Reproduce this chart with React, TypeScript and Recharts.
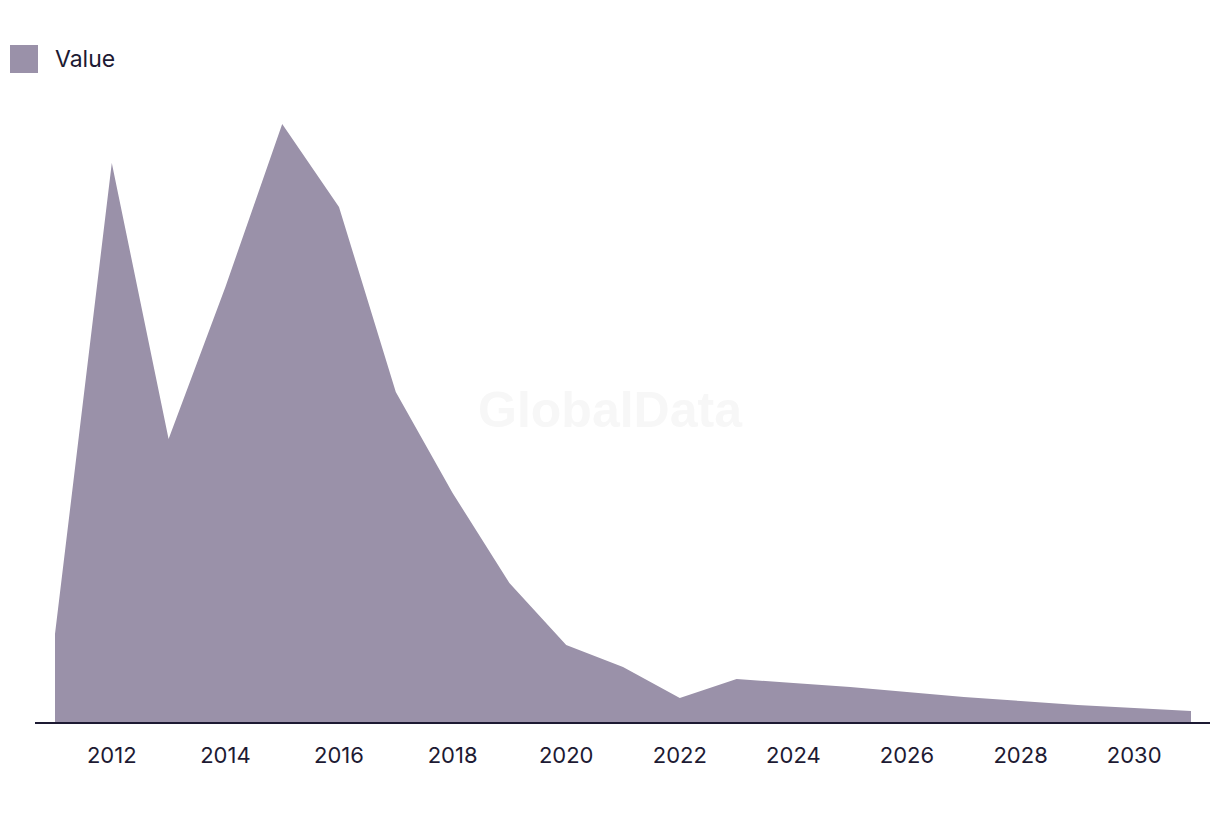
import { Area, AreaChart, Legend, XAxis, YAxis } from "recharts";

const years = [
  2011, 2012, 2013, 2014, 2015, 2016, 2017, 2018, 2019, 2020, 2021, 2022, 2023,
  2024, 2025, 2026, 2027, 2028, 2029, 2030, 2031,
];
const values = [
  89, 560, 284, 436, 599, 516, 331, 230, 140, 78, 56, 25, 44, 40, 36, 31, 26,
  22, 18, 15, 12,
];
const yearTicks = [2012, 2014, 2016, 2018, 2020, 2022, 2024, 2026, 2028, 2030];

const data = years.map((year, i) => ({ year, Value: values[i] }));

const FILL = "#9a91a9";
const INK = "#1d1a33";
const FONT = "Inter, 'Noto Sans', sans-serif";

function LegendBox() {
  return (
    <div style={{ display: "flex", alignItems: "center", fontFamily: FONT, height: 28 }}>
      <div style={{ width: 28, height: 28, background: FILL }} />
      <span style={{ marginLeft: 17, fontSize: 23, color: INK }}>Value</span>
    </div>
  );
}

export default function App() {
  return (
    <div style={{ position: "absolute", left: 0, top: 0, width: 1220, height: 816, background: "#fff" }}>
      <AreaChart
        width={1220}
        height={816}
        data={data}
        margin={{ top: 72, right: 10, left: 35, bottom: 33 }}
      >
        <text
          x={610}
          y={427}
          textAnchor="middle"
          fontFamily="'Liberation Sans', Arial, sans-serif"
          fontWeight="bold"
          fontSize={50}
          fill="#f7f7f7"
        >
          GlobalData
        </text>
        <XAxis
          dataKey="year"
          type="number"
          domain={[2011, 2031]}
          ticks={yearTicks}
          padding={{ left: 20, right: 19 }}
          height={60}
          tickLine={false}
          tickSize={0}
          tickMargin={24}
          axisLine={{ stroke: INK, strokeWidth: 2 }}
          tick={{ fill: INK, fontSize: 22, fontFamily: FONT }}
        />
        <YAxis hide domain={[0, 623]} />
        <Legend
          verticalAlign="top"
          align="left"
          content={<LegendBox />}
          wrapperStyle={{ top: 45, left: 10, width: "auto" }}
        />
        <Area
          type="linear"
          dataKey="Value"
          stroke="none"
          fill={FILL}
          fillOpacity={1}
          isAnimationActive={false}
        />
      </AreaChart>
    </div>
  );
}
